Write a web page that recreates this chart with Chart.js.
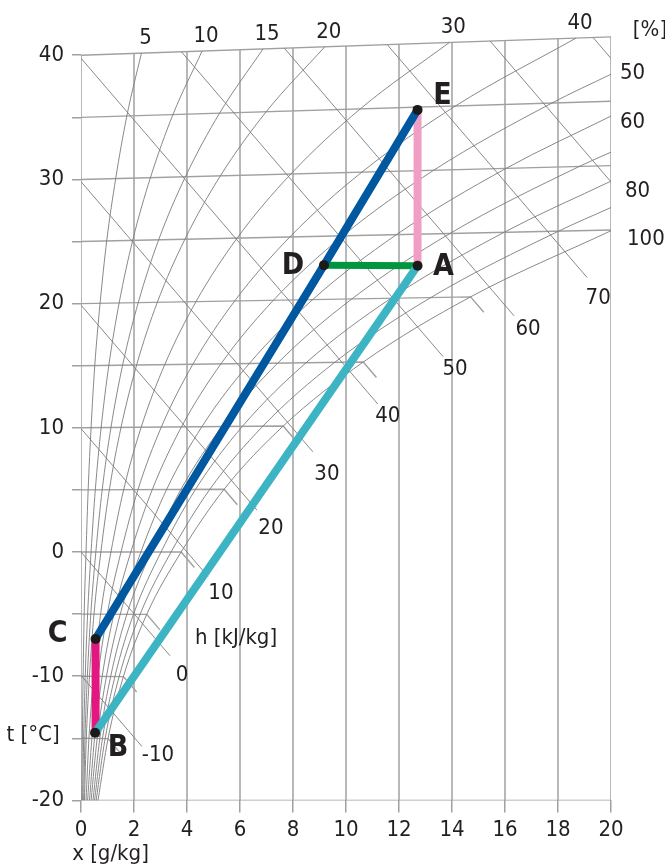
<!DOCTYPE html>
<html>
<head>
<meta charset="utf-8">
<script src="https://cdn.jsdelivr.net/npm/chart.js@4.4.1/dist/chart.umd.min.js"></script>
<style>
  html, body { margin: 0; padding: 0; background: #fff; }
  #wrap { width: 665px; height: 865px; }
</style>
</head>
<body>
<div id="wrap"><canvas id="chart" width="665" height="865"></canvas></div>
<script>
// h-x (Mollier) diagram, x = moisture content [g/kg], y = temperature [°C]
const xGrid = [0, 2, 4, 6, 8, 10, 12, 14, 16, 18, 20];

// isotherms and where they hit saturation (20 = right border)
const isoTemps = [-15, -10, -5, 0, 5, 10, 15, 20, 25, 30, 35, 40];
const isoSatX = [1.02, 1.60, 2.48, 3.78, 5.40, 7.63, 10.65, 14.70, 20, 20, 20, 20];

// enthalpy lines [kJ/kg]
const hVals = [-10, 0, 10, 20, 30, 40, 50, 60, 70, 80, 90];
const hStartX = [0, 0, 0, 0, 0, 0, 3.79, 7.67, 11.56, 15.44, 19.32];
const hEndX = [2.30, 3.36, 4.79, 6.64, 8.75, 11.20, 13.66, 16.34, 19.10, 20, 20];

// relative humidity curves: x [g/kg] at each temperature of rhTemps
const rhTemps = [-20, -15, -10, -5, 0, 5, 10, 15, 20, 25, 30, 35, 40];
const rhLevels = [5, 10, 15, 20, 30, 40, 50, 60, 70, 80, 90, 100];
const rh5   = [0.03, 0.05, 0.08, 0.12, 0.19, 0.27, 0.38, 0.52, 0.72, 0.97, 1.31, 1.73, 2.28];
const rh10  = [0.06, 0.10, 0.16, 0.25, 0.38, 0.54, 0.76, 1.05, 1.44, 1.95, 2.62, 3.47, 4.57];
const rh15  = [0.10, 0.15, 0.24, 0.37, 0.56, 0.80, 1.13, 1.57, 2.16, 2.93, 3.94, 5.23, 6.87];
const rh20  = [0.13, 0.20, 0.32, 0.49, 0.75, 1.07, 1.51, 2.10, 2.88, 3.92, 5.26, 6.99, 9.20];
const rh30  = [0.19, 0.30, 0.48, 0.74, 1.13, 1.61, 2.27, 3.16, 4.34, 5.89, 7.92, 10.54, 13.90];
const rh40  = [0.25, 0.41, 0.64, 0.99, 1.51, 2.15, 3.03, 4.22, 5.80, 7.88, 10.60, 14.13, 18.68];
const rh50  = [0.32, 0.51, 0.80, 1.24, 1.88, 2.69, 3.79, 5.28, 7.26, 9.88, 13.31, 17.77];
const rh60  = [0.38, 0.61, 0.96, 1.48, 2.26, 3.23, 4.56, 6.35, 8.74, 11.90, 16.04];
const rh70  = [0.45, 0.71, 1.12, 1.73, 2.64, 3.77, 5.32, 7.42, 10.22, 13.92, 18.80];
const rh80  = [0.51, 0.81, 1.28, 1.98, 3.02, 4.32, 6.09, 8.49, 11.70, 15.96];
const rh90  = [0.57, 0.91, 1.44, 2.23, 3.40, 4.86, 6.86, 9.57, 13.20, 18.02];
const rh100 = [0.64, 1.02, 1.60, 2.48, 3.78, 5.40, 7.63, 10.65, 14.70];
const rhCurves = [rh5, rh10, rh15, rh20, rh30, rh40, rh50, rh60, rh70, rh80, rh90, rh100];
// temperature where a curve leaves through the right border (x = 20)
const rhEdgeT = [null, null, null, null, null, null, 37.1, 33.85, 31.05, 28.8, 26.75, 24.95];
const rhTopLabels = [5, 10, 15, 20, 30, 40];
const rhRightLabels = [50, 60, 80, 100];

// process states
const pointNames = ['B', 'C', 'D', 'A', 'E'];
const pointX = [0.53, 0.55, 9.17, 12.7, 12.7];
const pointY = [-14.55, -7.0, 23.1, 23.05, 35.6];
const processPaths = [['C', 'D', 'E'], ['B', 'A'], ['A', 'E'], ['D', 'A'], ['B', 'C']];

const FONT = "'Liberation Sans Narrow', 'Arial Narrow', 'DejaVu Sans Condensed', sans-serif";
const INK = '#231f20';
const GRID = '#a0a0a0';
const THIN = '#7c7c7c';
const processColors = ['#0058a0', '#3db4c4', '#f19ec4', '#00953f', '#e2177f'];
const processWidths = [8, 8, 8, 7, 8];

function skewY(t, x) { return t * (1 + 0.001849 * x); }   // isotherms climb a little to the right
function hY(h, x) { return (h - 2.501 * x) / 1.006; }      // constant enthalpy
const fogLen = 0.5;

function seg(data, color, width, order, extra) {
  return Object.assign({
    data, borderColor: color, borderWidth: width, showLine: true,
    pointRadius: 0, pointHoverRadius: 0, fill: false, order, tension: 0
  }, extra || {});
}

const datasets = [];

// black state points on top
datasets.push({
  data: pointX.map((x, i) => ({ x, y: pointY[i] })),
  showLine: false, pointRadius: 5, pointBackgroundColor: '#1a1a1a',
  pointBorderWidth: 0, order: 0
});

processPaths.forEach((path, i) => {
  const pts = path.map(n => { const k = pointNames.indexOf(n); return { x: pointX[k], y: pointY[k] }; });
  datasets.push(seg(pts, processColors[i], processWidths[i], 1 + i, { borderCapStyle: 'butt' }));
});

// relative humidity curves
rhCurves.forEach((arr, i) => {
  const pts = arr.map((x, k) => ({ x, y: skewY(rhTemps[k], x) }));
  if (rhEdgeT[i] !== null) pts.push({ x: 20, y: skewY(rhEdgeT[i], 20) });
  datasets.push(seg(pts, THIN, 0.9, 20, { cubicInterpolationMode: 'monotone' }));
});

// enthalpy lines
hVals.forEach((h, i) => {
  datasets.push(seg([{ x: hStartX[i], y: hY(h, hStartX[i]) }, { x: hEndX[i], y: hY(h, hEndX[i]) }], THIN, 0.9, 21));
});

// isotherms with their short fog part
isoTemps.forEach((t, i) => {
  const xs = isoSatX[i];
  const ys = skewY(t, xs);
  const pts = [{ x: 0, y: t }, { x: xs, y: ys }];
  if (xs < 20) {
    const h = 1.006 * ys + 2.501 * xs;
    pts.push({ x: xs + fogLen, y: hY(h, xs + fogLen) });
  }
  datasets.push(seg(pts, GRID, 1.4, 30));
});

// vertical lines up to the 40 °C border, bottom border
xGrid.forEach(x => {
  datasets.push(seg([{ x, y: -20 }, { x, y: skewY(40, x) }], GRID, 1.5, 31));
});
datasets.push(seg([{ x: 0, y: -20 }, { x: 20, y: -20 }], GRID, 1.5, 31));

const hLabelOff = [[16, 9], [12, 20], [13, 17], [14, 18], [14, 22], [10, 12], [12, 13], [14, 13], [11, 21]];
const rightLabelOff = [[9, -1], [9, 6], [14, 10], [16, 9]];
const pointLabelOff = [[23, 15], [-38, -5], [-31, 1], [26, 1], [25, -14]];

const textPlugin = {
  id: 'mollierText',
  afterDatasetsDraw(chart) {
    const ctx = chart.ctx;
    const sx = chart.scales.x, sy = chart.scales.y;
    const P = (x, y) => [sx.getPixelForValue(x), sy.getPixelForValue(y)];
    ctx.save();
    ctx.fillStyle = INK;
    ctx.textAlign = 'center';
    ctx.textBaseline = 'middle';
    ctx.font = '22px ' + FONT;

    // enthalpy labels at line ends
    hVals.forEach((h, i) => {
      if (!hLabelOff[i]) return;
      const [px, py] = P(hEndX[i], hY(h, hEndX[i]));
      ctx.fillText(String(h), px + hLabelOff[i][0], py + hLabelOff[i][1]);
    });

    // RH labels along the top border
    rhTopLabels.forEach(v => {
      const arr = rhCurves[rhLevels.indexOf(v)];
      const x = arr[arr.length - 1];
      const [px, py] = P(x, skewY(40, x));
      ctx.fillText(String(v), px + 4, py - 15);
    });

    // RH labels at the right border
    ctx.textAlign = 'left';
    rhRightLabels.forEach((v, i) => {
      const k = rhLevels.indexOf(v);
      const [px, py] = P(20, skewY(rhEdgeT[k], 20));
      ctx.fillText(String(v), px + rightLabelOff[i][0], py + rightLabelOff[i][1]);
    });

    // axis names
    ctx.textAlign = 'center';
    ctx.fillText('[%]', P(20, 0)[0] + 39, 30);
    ctx.fillText('t [°C]', 33, P(0, -14.6)[1] + 2);
    ctx.fillText('x [g/kg]', P(1, 0)[0] + 3, 854);
    ctx.fillText('h [kJ/kg]', P(5.85, 0)[0], P(0, -6.8)[1] + 2);

    // state names
    ctx.font = 'bold 30px ' + FONT;
    pointNames.forEach((n, i) => {
      const [px, py] = P(pointX[i], pointY[i]);
      ctx.fillText(n, px + pointLabelOff[i][0], py + pointLabelOff[i][1]);
    });
    ctx.restore();
  }
};

new Chart(document.getElementById('chart'), {
  type: 'scatter',
  data: { datasets },
  options: {
    responsive: false,
    devicePixelRatio: 1,
    animation: false,
    events: [],
    layout: { padding: { top: 30.4, right: 54, left: 0, bottom: 0 } },
    plugins: { legend: { display: false }, tooltip: { enabled: false } },
    scales: {
      x: {
        type: 'linear', min: 0, max: 20,
        afterFit: s => { s.height = 64.6; },
        ticks: { stepSize: 2, color: INK, font: { family: FONT, size: 22 }, padding: 5, maxRotation: 0, autoSkip: false },
        grid: { drawOnChartArea: false, drawTicks: true, tickLength: 12, color: GRID, lineWidth: 1.5 },
        border: { display: false }
      },
      y: {
        type: 'linear', min: -20, max: 42,
        afterFit: s => { s.width = 81; },
        ticks: {
          stepSize: 5, includeBounds: false, color: INK, font: { family: FONT, size: 22 }, padding: 8, autoSkip: false,
          callback: v => (v % 10 === 0 ? String(v) : '')
        },
        grid: { drawOnChartArea: false, drawTicks: true, tickLength: 9, color: GRID, lineWidth: 1.5 },
        border: { display: false }
      }
    }
  },
  plugins: [textPlugin]
});
</script>
</body>
</html>
